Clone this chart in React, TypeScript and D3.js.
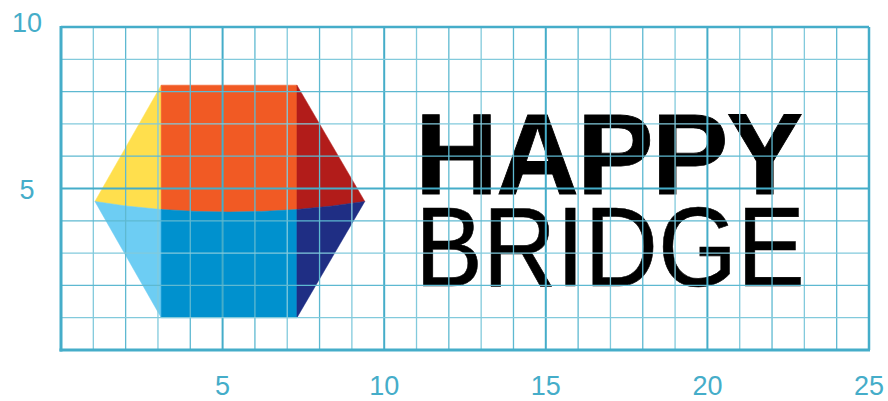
import React from 'react'
import * as d3 from 'd3'

// axis ticks
const xTicks = [5, 10, 15, 20, 25]
const yTicks = [5, 10]
const gridX = d3.range(0, 26)
const gridY = d3.range(0, 11)

// hexagon geometry (data units)
const topY = 8.2
const bottomY = 1.0
const leftCol = 3.1
const rightCol = 7.3
// curved seam between the upper and lower halves, left vertex -> right vertex
const seam: [number, number][] = [
  [1.05, 4.6], [2.0, 4.46], [3.1, 4.35], [4.2, 4.29], [5.2, 4.27],
  [6.2, 4.29], [7.3, 4.35], [8.4, 4.46], [9.4, 4.6],
]
const pieceColors = ['#FFDF4D', '#F15A24', '#B21C1A', '#6DCDF3', '#0091CE', '#1F2E84']

const W = 888
const H = 401
const margin = { left: 61, right: 19, top: 27, bottom: 51 }

export default function App() {
  const x = d3.scaleLinear().domain([0, 25]).range([margin.left, W - margin.right])
  const y = d3.scaleLinear().domain([0, 10]).range([H - margin.bottom, margin.top])

  const line = d3.line<[number, number]>()
    .x(d => x(d[0]))
    .y(d => y(d[1]))

  const sL = seam.slice(0, 3)   // left vertex -> left column
  const sM = seam.slice(2, 7)   // left column -> right column
  const sR = seam.slice(6)      // right column -> right vertex

  const pieces: [number, number][][] = [
    [...sL, [leftCol, topY]],
    [...sM, [rightCol, topY], [leftCol, topY]],
    [...sR, [rightCol, topY]],
    [...sL, [leftCol, bottomY]],
    [...sM, [rightCol, bottomY], [leftCol, bottomY]],
    [...sR, [rightCol, bottomY]],
  ]

  const tickColor = '#45ADC9'
  const font = '"Liberation Sans", Arial, Helvetica, sans-serif'
  const gridColor = (v: number) => v % 5 === 0 ? '#45ADC9' : (v % 2 === 0 ? '#5EB9D1' : '#82CADC')
  const textX = 415

  return (
    <svg width={W} height={H} style={{ position: 'absolute', left: 0, top: 0, background: '#fff' }}>
      {pieces.map((p, i) => (
        <path key={i} d={line(p) + 'Z'} fill={pieceColors[i]} stroke={pieceColors[i]} strokeWidth={0.5} />
      ))}

      <text transform={`translate(${textX},${y(4.83)})`} fontFamily={font} fontWeight={700} fontSize={115}
        letterSpacing={-2} fill="#000" stroke="#000" strokeWidth={0.8}>HAPPY</text>
      <text transform={`translate(${textX},${y(1.98)}) scale(0.9,1)`} fontFamily={font} fontWeight={400}
        fontSize={113} fill="#000" stroke="#000" strokeWidth={0.6}>BRIDGE</text>

      {/* grid */}
      {gridX.map(v => (
        <line key={'gx' + v} x1={x(v)} x2={x(v)} y1={y(0)} y2={y(10)}
          stroke={gridColor(v)} strokeWidth={v % 5 === 0 ? 2 : 1.3} />
      ))}
      {gridY.map(v => (
        <line key={'gy' + v} x1={x(0)} x2={x(25)} y1={y(v)} y2={y(v)}
          stroke={gridColor(v)} strokeWidth={v % 5 === 0 ? 2 : 1.3} />
      ))}
      {/* frame */}
      <line x1={x(0)} x2={x(0)} y1={y(0) + 1.5} y2={y(10) - 1} stroke={tickColor} strokeWidth={3} />
      <line x1={x(0) - 1.5} x2={x(25) + 1} y1={y(0)} y2={y(0)} stroke={tickColor} strokeWidth={3} />
      <line x1={x(0)} x2={x(25)} y1={y(10)} y2={y(10)} stroke={tickColor} strokeWidth={2.5} />
      <line x1={x(25)} x2={x(25)} y1={y(0)} y2={y(10)} stroke={tickColor} strokeWidth={2.5} />

      {xTicks.map(v => (
        <text key={'xt' + v} x={x(v)} y={395} textAnchor="middle" fontFamily={font}
          fontSize={27} fill={tickColor}>{v}</text>
      ))}
      {yTicks.map(v => (
        <text key={'yt' + v} x={27} y={y(v) + (v === 10 ? 5 : 10)} textAnchor="middle" fontFamily={font}
          fontSize={27} fill={tickColor}>{v}</text>
      ))}
    </svg>
  )
}
